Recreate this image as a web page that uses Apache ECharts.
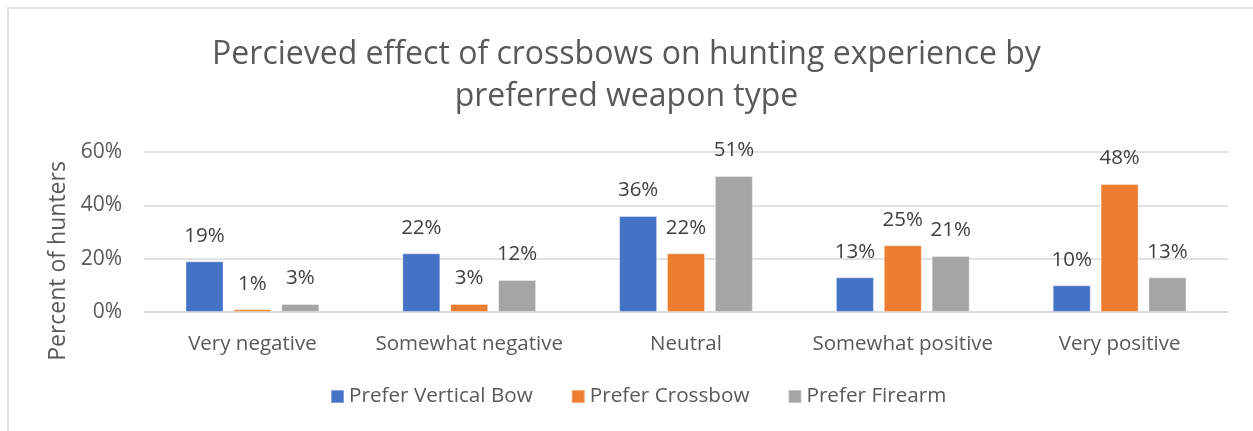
<!DOCTYPE html>
<html>
<head>
<meta charset="utf-8">
<script src="https://cdn.jsdelivr.net/npm/echarts@6/dist/echarts.min.js"></script>
<style>
html,body{margin:0;padding:0;background:#fff;}
#c{width:1253px;height:431px;position:relative;}
#frame{position:absolute;left:7px;top:7px;right:0;bottom:0;border-left:2px solid #e3e3e3;border-top:2px solid #e3e3e3;pointer-events:none;}
</style>
</head>
<body>
<div id="c"></div>
<div id="frame"></div>
<script>
const categories = ['Very negative', 'Somewhat negative', 'Neutral', 'Somewhat positive', 'Very positive'];
const seriesNames = ['Prefer Vertical Bow', 'Prefer Crossbow', 'Prefer Firearm'];
const verticalBow = [19, 22, 36, 13, 10];
const crossbow = [1, 3, 22, 25, 48];
const firearm = [3, 12, 51, 21, 13];
const yTicks = [0, 20, 40, 60];
const titleLines = ['Percieved effect of crossbows on hunting experience by', 'preferred weapon type'];
const yAxisTitle = 'Percent of hunters';

const colors = ['#4472C4', '#ED7D31', '#A5A5A5'];
const font = '"Open Sans", "Noto Sans", sans-serif';
const chart = echarts.init(document.getElementById('c'), null, {renderer: 'canvas'});
const dataSets = [verticalBow, crossbow, firearm];

chart.setOption({
  animation: false,
  color: colors,
  title: {
    text: titleLines.join('\n'),
    left: 'center',
    top: 29,
    textStyle: {fontFamily: font, fontSize: 32, fontWeight: 'normal', color: '#595959', lineHeight: 42}
  },
  legend: {
    data: seriesNames,
    top: 381,
    left: 325,
    itemWidth: 13,
    itemHeight: 13,
    itemGap: 38,
    icon: 'rect',
    textStyle: {fontFamily: font, fontSize: 20.7, color: '#595959'}
  },
  grid: {left: 144, right: 25, top: 152, bottom: 119, containLabel: false},
  xAxis: {
    type: 'category',
    data: categories,
    axisLine: {show: true, lineStyle: {color: '#d9d9d9', width: 1.5}},
    axisTick: {show: false},
    axisLabel: {interval: 0, hideOverlap: false, fontFamily: font, fontSize: 20.5, color: '#595959', margin: 22}
  },
  yAxis: {
    type: 'value',
    min: yTicks[0],
    max: yTicks[yTicks.length - 1],
    interval: 20,
    name: yAxisTitle,
    nameLocation: 'middle',
    nameGap: 74,
    nameRotate: 90,
    nameTextStyle: {fontFamily: font, fontSize: 23, color: '#595959', padding: [0, 58, 0, 0]},
    axisLine: {show: false},
    axisTick: {show: false},
    splitLine: {lineStyle: {color: '#d9d9d9', width: 1.5}},
    axisLabel: {fontFamily: font, fontSize: 21, color: '#595959', margin: 22, formatter: v => v + '%'}
  },
  series: seriesNames.map((name, i) => ({
    name: name,
    type: 'bar',
    data: dataSets[i],
    barWidth: 38,
    barGap: '26%',
    itemStyle: {color: colors[i], borderColor: 'rgba(255,255,255,0.35)', borderWidth: 1},
    label: {
      show: true,
      position: 'top',
      distance: 15,
      formatter: p => p.value + '%',
      fontFamily: font,
      fontSize: 20.5,
      color: '#404040'
    }
  }))
});
</script>
</body>
</html>
